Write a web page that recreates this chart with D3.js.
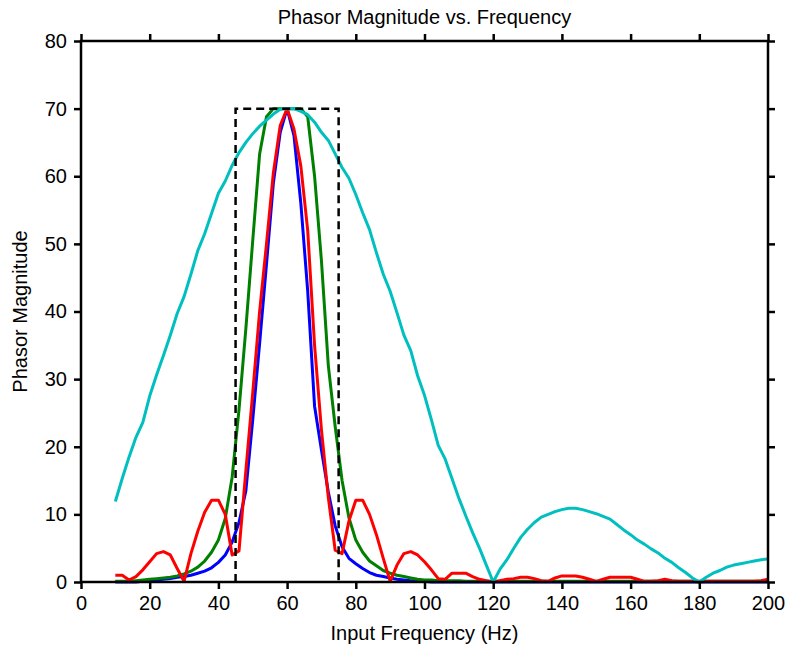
<!DOCTYPE html>
<html>
<head>
<meta charset="utf-8">
<script src="https://cdn.jsdelivr.net/npm/d3@7"></script>
<style>
  body { margin: 0; background: #fff; }
  svg text { font-family: "Liberation Sans", Arial, Helvetica, sans-serif; }
</style>
</head>
<body>
<div id="main"></div>
<script>
// input frequency samples (Hz)
const freq = [10, 12, 14, 16, 18, 20, 22, 24, 26, 28, 30, 32, 34, 36, 38, 40, 42, 44, 46, 48,
  50, 52, 54, 56, 58, 60, 62, 64, 66, 68, 70, 72, 74, 76, 78, 80, 82, 84, 86, 88,
  90, 92, 94, 96, 98, 100, 102, 104, 106, 108, 110, 112, 114, 116, 118, 120, 122, 124, 126, 128,
  130, 132, 134, 136, 138, 140, 142, 144, 146, 148, 150, 152, 154, 156, 158, 160, 162, 164, 166, 168,
  170, 172, 174, 176, 178, 180, 182, 184, 186, 188, 190, 192, 194, 196, 198, 200]

const blueMag = [0, 0, 0, 0, 0.1, 0.2, 0.3, 0.4, 0.5, 0.7, 0.8, 1.0, 1.3, 1.6, 2.1, 2.9, 4.0, 5.9, 8.8, 13.5,
  24.0, 35.3, 47.0, 59.0, 66.5, 70.0, 66.0, 56.0, 43.0, 26.0, 19.5, 13.3, 8.3, 5.2, 3.5, 2.7, 2.0, 1.4, 1.0, 0.8,
  0.6, 0.4, 0.3, 0.2, 0.1, 0.1, 0, 0, 0, 0, 0, 0, 0, 0, 0, 0, 0, 0, 0, 0,
  0, 0, 0, 0, 0, 0, 0, 0, 0, 0, 0, 0, 0, 0, 0, 0, 0, 0, 0, 0,
  0, 0, 0, 0, 0, 0, 0, 0, 0, 0, 0, 0, 0, 0, 0, 0]

const greenMag = [0.1, 0.1, 0.1, 0.2, 0.3, 0.4, 0.5, 0.6, 0.7, 0.9, 1.2, 1.6, 2.2, 3.1, 4.4, 6.2, 9.4, 15.5, 25.5, 37.5,
  50.5, 63.3, 68.8, 70.0, 70.0, 70.0, 70.0, 70.0, 68.8, 60.0, 47.5, 32.0, 23.0, 15.0, 9.5, 6.2, 4.4, 3.1, 2.4, 1.7,
  1.3, 1.0, 0.8, 0.6, 0.4, 0.3, 0.3, 0.2, 0.2, 0.2, 0.2, 0.1, 0.1, 0.1, 0.1, 0.1, 0.1, 0.1, 0.1, 0.1,
  0.1, 0.1, 0.1, 0.1, 0.1, 0.1, 0.1, 0.1, 0.1, 0.1, 0.1, 0.1, 0.1, 0.1, 0.1, 0.1, 0.1, 0.1, 0.1, 0.1,
  0.1, 0.1, 0.1, 0.1, 0.1, 0.1, 0.1, 0.1, 0.1, 0.1, 0.1, 0.1, 0.1, 0.1, 0.1, 0.1]

const redMag = [1.0, 1.0, 0.3, 0.8, 1.8, 3.0, 4.2, 4.5, 4.0, 2.0, 0.1, 4.2, 7.5, 10.3, 12.1, 12.1, 10.0, 4.0, 4.6, 16.5,
  28.0, 40.0, 50.0, 60.5, 67.5, 70.0, 67.0, 61.5, 52.0, 35.0, 22.5, 12.5, 4.7, 4.2, 9.0, 12.1, 12.1, 10.0, 7.0, 3.5,
  0.1, 2.5, 4.2, 4.5, 4.0, 3.0, 1.8, 0.5, 0.4, 1.3, 1.3, 1.3, 0.8, 0.4, 0.2, 0.0, 0.2, 0.4, 0.5, 0.7,
  0.7, 0.5, 0.2, 0.1, 0.6, 0.9, 0.9, 0.9, 0.7, 0.4, 0.1, 0.4, 0.7, 0.7, 0.7, 0.7, 0.4, 0.1, 0.1, 0.2,
  0.4, 0.2, 0.1, 0.1, 0.1, 0.0, 0.1, 0.1, 0.1, 0.1, 0.1, 0.1, 0.1, 0.1, 0.2, 0.4]

const cyanMag = [11.9, 15.3, 18.5, 21.4, 23.6, 27.5, 30.6, 33.5, 36.5, 39.7, 42.2, 45.5, 49.0, 51.5, 54.5, 57.5, 59.3, 61.6, 63.5, 65.0,
  66.3, 67.4, 68.3, 69.2, 69.9, 70.0, 70.0, 69.6, 69.1, 68.0, 66.5, 65.3, 63.3, 61.3, 59.7, 57.3, 54.6, 52.1, 48.7, 45.5,
  43.0, 39.8, 36.5, 34.2, 30.5, 27.6, 24.0, 20.2, 18.2, 15.3, 12.4, 9.8, 7.3, 5.0, 2.5, 0.0, 1.9, 3.3, 5.0, 6.6,
  7.8, 8.8, 9.6, 10.0, 10.4, 10.7, 10.9, 10.9, 10.7, 10.4, 10.1, 9.7, 9.3, 8.5, 7.7, 7.0, 6.2, 5.6, 4.9, 4.3,
  3.5, 2.9, 2.1, 1.4, 0.6, 0.0, 0.7, 1.3, 1.7, 2.2, 2.5, 2.7, 2.9, 3.1, 3.3, 3.4]

// ideal passband box: [f1, f2] and height
const passFreq = [45, 75]
const passMag = 70

const xTicks = [0, 20, 40, 60, 80, 100, 120, 140, 160, 180, 200]
const yTicks = [0, 10, 20, 30, 40, 50, 60, 70, 80]

const series = [
  { values: blueMag, color: "#0000ff" },
  { values: greenMag, color: "#008000" },
  { values: redMag, color: "#ff0000" },
  { values: cyanMag, color: "#00bfbf" }
]

const width = 788
const height = 647
const margin = { top: 41, right: 20, bottom: 65, left: 81 }

const svg = d3.select("#main").append("svg")
  .attr("width", width)
  .attr("height", height)

const xScale = d3.scaleLinear()
  .domain([0, 200])
  .range([margin.left, width - margin.right])

const yScale = d3.scaleLinear()
  .domain([0, 80])
  .range([height - margin.bottom, margin.top])

const line = d3.line()
  .x((d, i) => xScale(freq[i]))
  .y(d => yScale(d))

series.forEach(s => {
  svg.append("path")
    .datum(s.values)
    .attr("fill", "none")
    .attr("stroke", s.color)
    .attr("stroke-width", 3)
    .attr("stroke-linejoin", "round")
    .attr("d", line)
})

// dashed passband box
const box = [[passFreq[0], 0], [passFreq[0], passMag], [passFreq[1], passMag], [passFreq[1], 0]]
svg.append("path")
  .datum(box)
  .attr("fill", "none")
  .attr("stroke", "#000")
  .attr("stroke-width", 2.5)
  .attr("stroke-dasharray", "8,5")
  .attr("d", d3.line().x(d => xScale(d[0])).y(d => yScale(d[1])))

// axes, ticks pointing outward on all four sides
const styleAxis = g => {
  g.select(".domain").remove()
  g.selectAll(".tick line").attr("stroke", "#000").attr("stroke-width", 2.5)
  g.selectAll(".tick text").attr("fill", "#000").style("font-size", "20px")
}

svg.append("g")
  .attr("transform", `translate(0,${height - margin.bottom})`)
  .call(d3.axisBottom(xScale).tickValues(xTicks).tickSize(7).tickPadding(7))
  .call(styleAxis)

svg.append("g")
  .attr("transform", `translate(0,${margin.top})`)
  .call(d3.axisTop(xScale).tickValues(xTicks).tickSize(7).tickFormat(""))
  .call(styleAxis)

svg.append("g")
  .attr("transform", `translate(${margin.left},0)`)
  .call(d3.axisLeft(yScale).tickValues(yTicks).tickSize(7).tickPadding(7))
  .call(styleAxis)

svg.append("g")
  .attr("transform", `translate(${width - margin.right},0)`)
  .call(d3.axisRight(yScale).tickValues(yTicks).tickSize(7).tickFormat(""))
  .call(styleAxis)

svg.append("rect")
  .attr("x", margin.left)
  .attr("y", margin.top)
  .attr("width", width - margin.left - margin.right)
  .attr("height", height - margin.top - margin.bottom)
  .attr("fill", "none")
  .attr("stroke", "#000")
  .attr("stroke-width", 2.5)

svg.append("text")
  .attr("x", (margin.left + width - margin.right) / 2)
  .attr("y", 24)
  .attr("text-anchor", "middle")
  .style("font-size", "20px")
  .text("Phasor Magnitude vs. Frequency")

svg.append("text")
  .attr("x", (margin.left + width - margin.right) / 2)
  .attr("y", 640)
  .attr("text-anchor", "middle")
  .style("font-size", "20px")
  .text("Input Frequency (Hz)")

svg.append("text")
  .attr("transform", `translate(27,${(margin.top + height - margin.bottom) / 2}) rotate(-90)`)
  .attr("text-anchor", "middle")
  .style("font-size", "20px")
  .text("Phasor Magnitude")
</script>
</body>
</html>
